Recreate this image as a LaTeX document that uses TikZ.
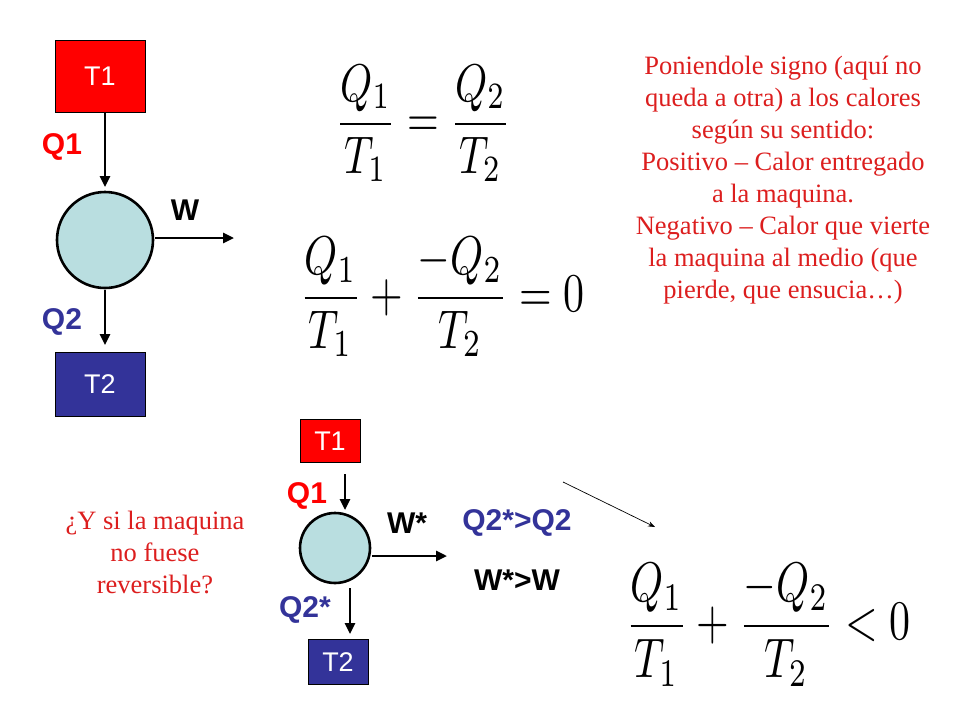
\documentclass[tikz,border=0pt]{standalone}
\usepackage{amsmath}
\usepackage{fontspec}
\usepackage{graphicx}
\setsansfont{Liberation Sans}
\newfontfamily\serifred{Liberation Serif}
\usetikzlibrary{arrows.meta}
\definecolor{myred}{RGB}{255,0,0}
\definecolor{txtred}{RGB}{220,30,30}
\definecolor{myblue}{RGB}{51,51,153}
\definecolor{circ}{RGB}{185,222,224}
\begin{document}
\begin{tikzpicture}[x=1pt,y=-1pt,
  redbox/.style={draw=black,fill=myred,text=white,font=\sffamily\fontsize{27}{29}\selectfont,inner sep=0},
  bluebox/.style={draw=black,fill=myblue,text=white,font=\sffamily\fontsize{27}{29}\selectfont,inner sep=0},
  qlab/.style={font=\sffamily\bfseries\fontsize{30}{32}\selectfont},
  flow/.style={-{Triangle[length=11pt,width=10pt]},line width=2.6pt},
  eng/.style={circle,draw=black,line width=2.6pt,fill=circ,inner sep=0},
  note/.style={text=txtred,align=center,font=\serifred\fontsize{26.5}{32}\selectfont},
  eq/.style={inner sep=0}]
\useasboundingbox (0,0) rectangle (960,720);
% top engine
\node[redbox,minimum width=90pt,minimum height=72pt] (t1) at (100,76) {T1};
\node[eng,minimum size=96pt] (c) at (105,240) {};
\node[bluebox,minimum width=90pt,minimum height=64pt] (t2) at (100,384) {T2};
\coordinate (a1) at (105,112); \coordinate (a2) at (105,187);
\draw[flow] (a1) -- (a2);
\coordinate (b1) at (105,290); \coordinate (b2) at (105,345);
\draw[flow] (b1) -- (b2);
\coordinate (w1) at (155,238); \coordinate (w2) at (234,238);
\draw[flow] (w1) -- (w2);
\node[qlab,text=myred] (q1) at (62,147) {Q1};
\node[qlab,text=myblue] (q2) at (62,322) {Q2};
\node[qlab] (w) at (185,210) {W};
% equations
\node[eq] (e1) at (423,123) {\scalebox{1}[1.3]{\resizebox{175pt}{!}{$\dfrac{Q_1}{T_1}=\dfrac{Q_2}{T_2}$}}};
\node[eq] (e2) at (442,297) {\scalebox{1}[1.3]{\resizebox{285pt}{!}{$\dfrac{Q_1}{T_1}+\dfrac{-Q_2}{T_2}=0$}}};
\node[eq] (e3) at (768,625) {\scalebox{1}[1.33]{\resizebox{285pt}{!}{$\dfrac{Q_1}{T_1}+\dfrac{-Q_2}{T_2}<0$}}};
% notes
\node[note] (n1) at (783,180) {Poniendole signo (aquí no\\queda a otra) a los calores\\según su sentido:\\Positivo – Calor entregado\\a la maquina.\\Negativo – Calor que vierte\\la maquina al medio (que\\pierde, que ensucia…)};
\node[note] (n2) at (155,552) {¿Y si la maquina\\no fuese\\reversible?};
% bottom engine
\node[redbox,minimum width=60pt,minimum height=43pt] (bt1) at (330,441) {T1};
\node[eng,minimum size=70pt] (bc) at (335,548) {};
\node[bluebox,minimum width=60pt,minimum height=45pt] (bt2) at (338,662) {T2};
\coordinate (c1) at (345,474); \coordinate (c2) at (345,510);
\draw[flow] (c1) -- (c2);
\coordinate (d1) at (350,588); \coordinate (d2) at (350,634);
\draw[flow] (d1) -- (d2);
\coordinate (v1) at (372,556); \coordinate (v2) at (447,556);
\draw[flow] (v1) -- (v2);
\node[qlab,text=myred] (bq1) at (307,496) {Q1};
\node[qlab,text=myblue] (bq2) at (305,610) {Q2*};
\node[qlab] (bw) at (407,523) {W*};
\node[qlab,text=myblue] (qq) at (517,523) {Q2*>Q2};
\node[qlab] (ww) at (517,580) {W*>W};
\coordinate (p1) at (563,482); \coordinate (p2) at (655,527);
\draw[-{Stealth[length=7pt]},line width=0.7pt] (p1) -- (p2);
\end{tikzpicture}
\end{document}
